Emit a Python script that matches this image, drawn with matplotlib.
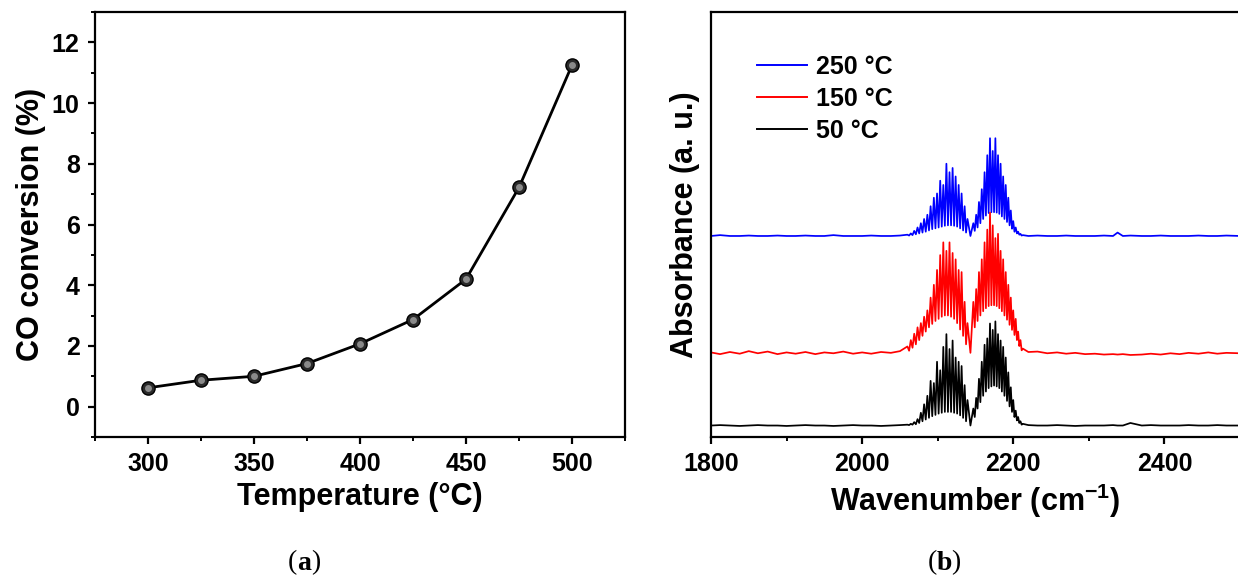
import numpy as np
import matplotlib
matplotlib.use("Agg")
import matplotlib.pyplot as plt
from matplotlib.ticker import MultipleLocator, NullLocator

# ---------------- data: panel (a) ----------------
temperature = [300, 325, 350, 375, 400, 425, 450, 475, 500]
co_conversion = [0.62, 0.87, 1.00, 1.42, 2.07, 2.87, 4.20, 7.22, 11.25]

# ---------------- data: panel (b) ----------------
# CO gas rovibrational line positions (cm-1)
p_lines = [2059.9, 2064.4, 2068.9, 2073.3, 2077.7, 2082.0, 2086.3, 2090.6, 2094.9, 2099.1,
           2103.3, 2107.4, 2111.5, 2115.6, 2119.7, 2123.7, 2127.7, 2131.6, 2135.6, 2139.4]
r_lines = [2147.1, 2150.9, 2154.6, 2158.3, 2162.0, 2165.6, 2169.2, 2172.8, 2176.3, 2179.8,
           2183.2, 2186.6, 2190.0, 2193.4, 2196.7, 2199.9, 2203.2, 2206.4, 2209.5, 2212.6]
band_centre = 2143.3

base_left_wn = [1800, 1812, 1825, 1838, 1850, 1862, 1875, 1888, 1900, 1912, 1925,
                1938, 1950, 1962, 1975, 1988, 2000, 2012, 2025, 2038, 2050]
base_right_wn = [2220, 2232, 2245, 2258, 2270, 2282, 2295, 2308, 2320, 2332, 2338, 2345,
                 2355, 2370, 2382, 2395, 2408, 2420, 2432, 2445, 2458, 2470, 2482, 2500]

# 50 °C (black)
black_base_left = [0.000, 0.001, 0.000, -0.001, 0.000, 0.001, 0.000, 0.000, -0.001, 0.000, 0.001,
                   0.000, 0.000, -0.001, 0.000, 0.001, 0.000, 0.000, -0.001, 0.000, 0.001]
black_p_peaks = [0.002, 0.004, 0.008, 0.015, 0.030, 0.050, 0.070, 0.105, 0.100, 0.150,
                 0.130, 0.185, 0.215, 0.180, 0.200, 0.160, 0.150, 0.140, 0.095, 0.060]
black_p_valleys = [0.001, 0.002, 0.003, 0.006, 0.010, 0.014, 0.018, 0.022, 0.025, 0.028,
                   0.030, 0.032, 0.032, 0.032, 0.030, 0.028, 0.024, 0.018, 0.010]
black_dip = 0.000
black_r_peaks = [0.040, 0.065, 0.110, 0.150, 0.190, 0.205, 0.240, 0.225, 0.245, 0.215,
                 0.200, 0.185, 0.160, 0.125, 0.090, 0.060, 0.035, 0.020, 0.010, 0.004]
black_r_valleys = [0.020, 0.040, 0.055, 0.070, 0.080, 0.088, 0.092, 0.094, 0.092, 0.088,
                   0.080, 0.070, 0.058, 0.045, 0.032, 0.020, 0.012, 0.006, 0.002]
black_base_right = [0.001, 0.000, 0.000, 0.001, 0.000, -0.001, 0.000, 0.000, 0.000, 0.001, 0.000, 0.000,
                    0.006, 0.000, 0.001, 0.000, 0.000, 0.000, 0.001, 0.000, 0.000, 0.001, 0.000, 0.000]

# 150 °C (red)
red_base_left = [0.001, -0.003, 0.002, -0.002, 0.004, -0.001, 0.003, -0.003, 0.001, -0.002, 0.002,
                 -0.003, 0.001, -0.001, 0.003, -0.002, 0.001, -0.002, 0.002, 0.000, 0.004]
red_p_peaks = [0.015, 0.030, 0.045, 0.060, 0.070, 0.085, 0.100, 0.130, 0.160, 0.195,
               0.230, 0.260, 0.240, 0.260, 0.235, 0.220, 0.195, 0.190, 0.120, 0.070]
red_p_valleys = [0.005, 0.012, 0.020, 0.030, 0.040, 0.050, 0.060, 0.068, 0.075, 0.080,
                 0.085, 0.088, 0.088, 0.085, 0.080, 0.070, 0.055, 0.040, 0.020]
red_dip = 0.000
red_r_peaks = [0.120, 0.150, 0.190, 0.220, 0.260, 0.290, 0.330, 0.300, 0.270, 0.280,
               0.240, 0.220, 0.190, 0.160, 0.130, 0.100, 0.080, 0.050, 0.030, 0.010]
red_r_valleys = [0.060, 0.075, 0.088, 0.098, 0.105, 0.110, 0.112, 0.112, 0.110, 0.105,
                 0.098, 0.088, 0.078, 0.066, 0.054, 0.042, 0.030, 0.016, 0.006]
red_base_right = [0.002, 0.003, -0.001, 0.001, -0.002, 0.000, -0.003, -0.002, -0.004, -0.003, -0.004, -0.003,
                  -0.005, -0.004, -0.002, -0.004, -0.001, -0.003, 0.000, -0.002, 0.001, -0.002, 0.000, -0.001]

# 250 °C (blue)
blue_base_left = [0.000, 0.002, 0.000, 0.000, 0.001, 0.000, 0.000, 0.001, 0.000, 0.000, 0.001,
                  0.000, 0.000, 0.002, 0.000, 0.000, 0.000, 0.001, 0.000, 0.000, 0.001]
blue_p_peaks = [0.003, 0.006, 0.012, 0.020, 0.030, 0.040, 0.050, 0.070, 0.090, 0.100,
                0.130, 0.120, 0.170, 0.150, 0.160, 0.140, 0.120, 0.100, 0.070, 0.040]
blue_p_valleys = [0.001, 0.002, 0.004, 0.006, 0.008, 0.010, 0.013, 0.016, 0.018, 0.020,
                  0.022, 0.024, 0.025, 0.025, 0.024, 0.022, 0.018, 0.013, 0.008]
blue_dip = 0.000
blue_r_peaks = [0.030, 0.050, 0.080, 0.110, 0.150, 0.190, 0.230, 0.200, 0.230, 0.190,
                0.170, 0.140, 0.120, 0.090, 0.060, 0.035, 0.020, 0.010, 0.005, 0.002]
blue_r_valleys = [0.012, 0.020, 0.030, 0.040, 0.048, 0.054, 0.056, 0.056, 0.055, 0.052,
                  0.046, 0.040, 0.033, 0.025, 0.017, 0.010, 0.006, 0.003, 0.001]
blue_base_right = [0.000, 0.001, 0.000, 0.000, 0.001, 0.000, 0.000, 0.000, 0.001, 0.000, 0.008, 0.000,
                   0.001, 0.000, 0.000, 0.001, 0.000, 0.000, 0.000, 0.001, 0.000, 0.000, 0.001, 0.000]

series_labels = ["250 \u00b0C", "150 \u00b0C", "50 \u00b0C"]
series_colors = ["#0000ff", "#ff0000", "#000000"]
series_offsets = [0.473, 0.198, 0.027]

# ---------------- style ----------------
plt.rcParams['font.family'] = ['Liberation Sans', 'DejaVu Sans']
plt.rcParams['font.weight'] = 'bold'
plt.rcParams['mathtext.fontset'] = 'custom'
plt.rcParams['mathtext.rm'] = 'Liberation Sans:bold'
plt.rcParams['mathtext.bf'] = 'Liberation Sans:bold'
plt.rcParams['mathtext.default'] = 'rm'

W, H = 1238, 579
fig = plt.figure(figsize=(W / 100, H / 100), dpi=100)


def px_rect(x0, y0, x1, y1):
    return [x0 / W, 1 - y1 / H, (x1 - x0) / W, (y1 - y0) / H]


TICK_FS = 18
LABEL_FS = 22

# ---------------- panel (a) ----------------
ax1 = fig.add_axes(px_rect(95, 12, 625, 437))
ax1.plot(temperature, co_conversion, color='black', lw=2.0, zorder=2)
ax1.plot(temperature, co_conversion, ls='none', marker='o', ms=9.5,
         mfc='#2a2a2a', mec='#000000', mew=1.0, zorder=3)
ax1.plot(temperature, co_conversion, ls='none', marker='o', ms=5,
         mfc='#8a8a8a', mec='none', zorder=4)
ax1.set_xlim(275, 525)
ax1.set_ylim(-1, 13)
ax1.xaxis.set_major_locator(MultipleLocator(50))
ax1.xaxis.set_minor_locator(MultipleLocator(25))
ax1.yaxis.set_minor_locator(MultipleLocator(1))
ax1.set_yticks([0, 2, 4, 6, 8, 10, 12])
ax1.set_xlabel("Temperature (\u00b0C)", fontsize=LABEL_FS, fontweight='bold', labelpad=4)
ax1.set_ylabel("CO conversion (%)", fontsize=LABEL_FS, fontweight='bold', labelpad=4)

# ---------------- panel (b) ----------------
ax2 = fig.add_axes(px_rect(711, 12, 1240, 437))


def spectrum(base_left, p_peaks, p_valleys, dip, r_peaks, r_valleys, base_right):
    def zig(lines, peaks, valleys):
        lines = np.asarray(lines)
        mids = (lines[:-1] + lines[1:]) / 2
        xs, ys = [], []
        for i in range(len(lines)):
            xs.append(lines[i]); ys.append(peaks[i])
            if i < len(valleys):
                xs.append(mids[i]); ys.append(valleys[i])
        return xs, ys
    px, py = zig(p_lines, p_peaks, p_valleys)
    rx, ry = zig(r_lines, r_peaks, r_valleys)
    x = list(base_left_wn) + px + [band_centre] + rx + list(base_right_wn)
    y = list(base_left) + py + [dip] + ry + list(base_right)
    return np.array(x), np.array(y)


all_series = [
    (blue_base_left, blue_p_peaks, blue_p_valleys, blue_dip, blue_r_peaks, blue_r_valleys, blue_base_right),
    (red_base_left, red_p_peaks, red_p_valleys, red_dip, red_r_peaks, red_r_valleys, red_base_right),
    (black_base_left, black_p_peaks, black_p_valleys, black_dip, black_r_peaks, black_r_valleys, black_base_right),
]
for data, lab, col, off in zip(all_series, series_labels, series_colors, series_offsets):
    x, y = spectrum(*data)
    ax2.plot(x, y + off, color=col, lw=1.25, label=lab)

ax2.set_xlim(1800, 2500)
ax2.set_ylim(0, 1)
ax2.xaxis.set_major_locator(MultipleLocator(200))
ax2.xaxis.set_minor_locator(MultipleLocator(100))
ax2.yaxis.set_major_locator(NullLocator())
ax2.yaxis.set_minor_locator(NullLocator())
ax2.set_xlabel("Wavenumber (cm$^{\u22121}$)", fontsize=LABEL_FS, fontweight='bold', labelpad=4)
ax2.set_ylabel("Absorbance (a. u.)", fontsize=LABEL_FS, fontweight='bold', labelpad=8)

leg = ax2.legend(loc='upper left', bbox_to_anchor=(0.068, 0.922), frameon=False,
                 fontsize=18, handlelength=2.0, handletextpad=0.35, labelspacing=0.32,
                 borderaxespad=0)
for t in leg.get_texts():
    t.set_fontweight('bold')
for ln in leg.get_lines():
    ln.set_linewidth(1.4)

for ax in (ax1, ax2):
    for s in ax.spines.values():
        s.set_linewidth(1.6)
    ax.tick_params(axis='both', which='major', direction='out', length=5, width=1.6,
                   labelsize=TICK_FS, pad=6)
    ax.tick_params(axis='both', which='minor', direction='out', length=3, width=1.4)
    for lab in ax.get_xticklabels() + ax.get_yticklabels():
        lab.set_fontweight('bold')

# ---------------- captions ----------------
def caption(xc, letter):
    yc = 1 - 563 / H
    fig.text(xc / W, yc, letter, family='Liberation Serif', fontweight='bold',
             fontsize=20, ha='center', va='center')
    fig.text((xc - 7) / W, yc, "(", family='Liberation Serif', fontweight='normal',
             fontsize=20, ha='right', va='center')
    fig.text((xc + 7) / W, yc, ")", family='Liberation Serif', fontweight='normal',
             fontsize=20, ha='left', va='center')

caption(304, "a")
caption(944, "b")

fig.savefig("out.png", dpi=100)
